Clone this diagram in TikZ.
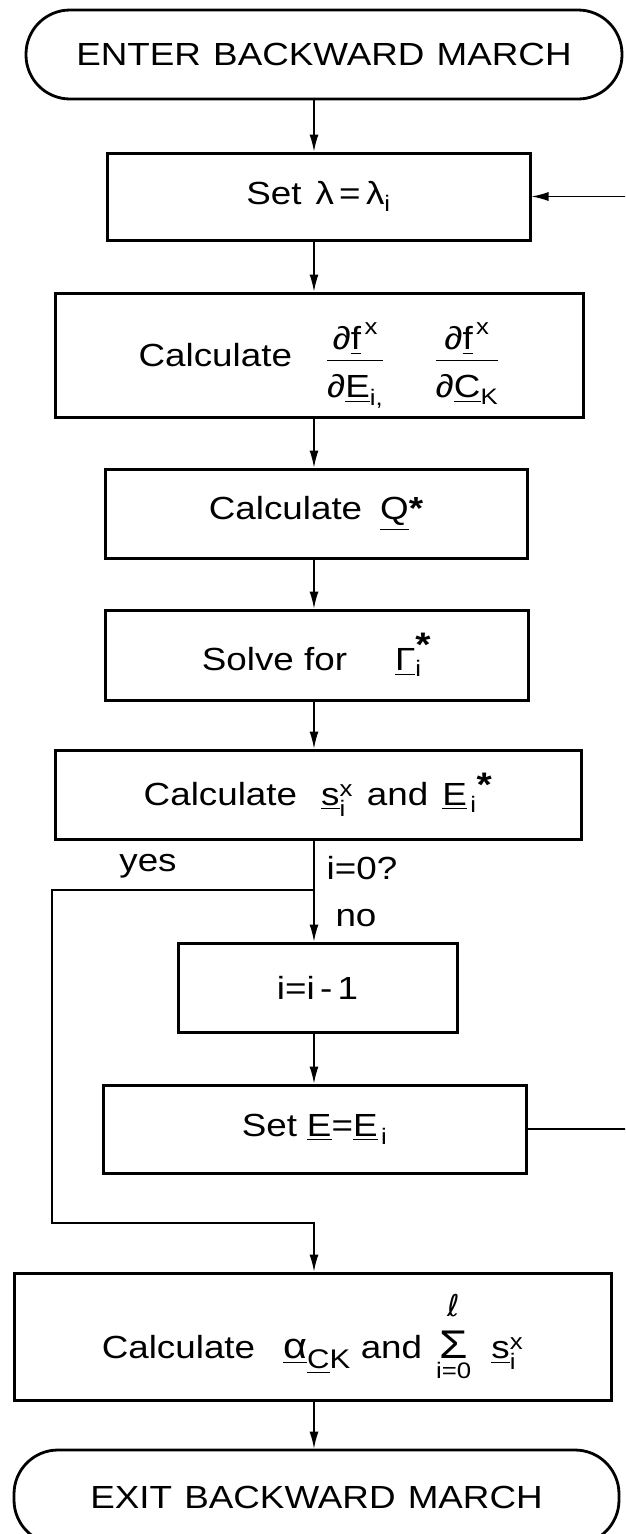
\documentclass[tikz,border=0pt]{standalone}
\usepackage{amsmath}
\usepackage{fontspec}
\setmainfont{Liberation Sans}[FakeStretch=1.15]
\newfontfamily\symf{DejaVu Sans}
\usetikzlibrary{arrows.meta}
\newcommand\uv[1]{\underline{#1}}
\newcommand\bigast{\text{\fontsize{34}{34}\selectfont\bfseries *}}
\begin{document}
\begin{tikzpicture}[x=1pt,y=-1pt,
  font=\fontsize{32}{38}\selectfont,
  box/.style={draw, line width=3pt, rectangle, inner sep=0pt, align=center},
  term/.style={draw, line width=2.8pt, rectangle, rounded corners=44pt, inner sep=0pt},
  conn/.style={line width=1.3pt},
  arr/.style={conn, -{Latex[length=17pt,width=9pt]}},
  lbl/.style={inner sep=0pt}]
\useasboundingbox (0,0) rectangle (625,1534);
\clip (0,0) rectangle (625,1534);

\coordinate (ax) at (314,0);
\coordinate (fb) at (630,0);

\node[term, minimum width=596pt, minimum height=89pt] (enter) at (324,54.5)
  {ENTER\hspace{2pt} BACKWARD\hspace{2pt} MARCH};
\node[box, minimum width=423pt, minimum height=87pt] (setl) at (318.5,196.5)
  {Set\hspace{14pt}λ\,=\,λ$_{\text{i}}$};
\node[box, minimum width=528pt, minimum height=124pt] (calcf) at (319,355)
  {Calculate\hspace{34pt}\raisebox{0pt}[0pt][0pt]{$\dfrac{\text{∂\uv{f}}^{\,\text{x}}}{\text{\rule{0pt}{34pt}∂\uv{E}}_{\text{i,}}}$}\hspace{50pt}\raisebox{0pt}[0pt][0pt]{$\dfrac{\text{∂\uv{f}}^{\,\text{x}}}{\text{\rule{0pt}{34pt}∂\uv{C}}_{\text{K}}}$}};
\node[box, minimum width=422pt, minimum height=89pt] (calcq) at (316,513.5)
  {Calculate\hspace{18pt}\uv{Q}{\bfseries *}};
\node[box, minimum width=423pt, minimum height=90pt] (solve) at (316.5,655)
  {Solve\ for\hspace{48pt}$\text{\uv{Γ}}^{\bigast}_{\text{i}}$};
\node[box, minimum width=526pt, minimum height=89pt] (calcs) at (318,794.5)
  {Calculate\hspace{24pt}$\text{\uv{s}}^{\text{x}}_{\text{i}}$\hspace{14pt}and\hspace{14pt}\uv{E}$_{\,\text{i}}$$^{\bigast}$};

\node[lbl] (yes) at (148,866) {yes};
\node[lbl] (q) at (362,868) {i=0?};
\node[lbl] (no) at (356,918) {no};

\node[box, minimum width=279pt, minimum height=89pt] (dec) at (317.5,987.5)
  {i=i\,-\,1};
\node[box, minimum width=423pt, minimum height=88pt] (sete) at (314.5,1129)
  {Set\hspace{10pt}\uv{E}=\uv{E}$_{\,\text{i}}$};
\node[box, minimum width=597pt, minimum height=127pt] (calca) at (312.5,1336.5)
  {Calculate\hspace{28pt}$\text{\fontsize{36}{36}\selectfont\uv{α}}_{\text{\fontsize{27}{30}\selectfont\uv{C}K}}$\hspace{10pt}and\hspace{14pt}$\mathop{\text{\fontsize{40}{40}\selectfont Σ}}\limits_{\text{i=0}}^{\text{\raisebox{10pt}{\fontsize{30}{30}\selectfont\symf ℓ}}}\hspace{16pt}\text{\uv{s}}^{\text{x}}_{\text{i}}$};
\node[term, minimum width=605pt, minimum height=94pt] (exit) at (316.5,1497)
  {EXIT\hspace{2pt} BACKWARD\hspace{2pt} MARCH};

\coordinate (j) at (314,890);
\coordinate (yb) at (52,1223);

\draw[arr] (enter.south -| ax) -- (setl.north -| ax);
\draw[arr] (setl.south -| ax) -- (calcf.north -| ax);
\draw[arr] (calcf.south -| ax) -- (calcq.north -| ax);
\draw[arr] (calcq.south -| ax) -- (solve.north -| ax);
\draw[arr] (solve.south -| ax) -- (calcs.north -| ax);
\draw[conn] (calcs.south -| ax) -- (j);
\draw[arr] (j) -- (dec.north -| ax);
\draw[arr] (dec.south -| ax) -- (sete.north -| ax);
\draw[arr] (j) -| (yb) -| (calca.north -| ax);
\draw[arr] (calca.south -| ax) -- (exit.north -| ax);
\draw[arr] (sete.east) -- (sete.east -| fb) |- (setl.east);
\end{tikzpicture}
\end{document}
